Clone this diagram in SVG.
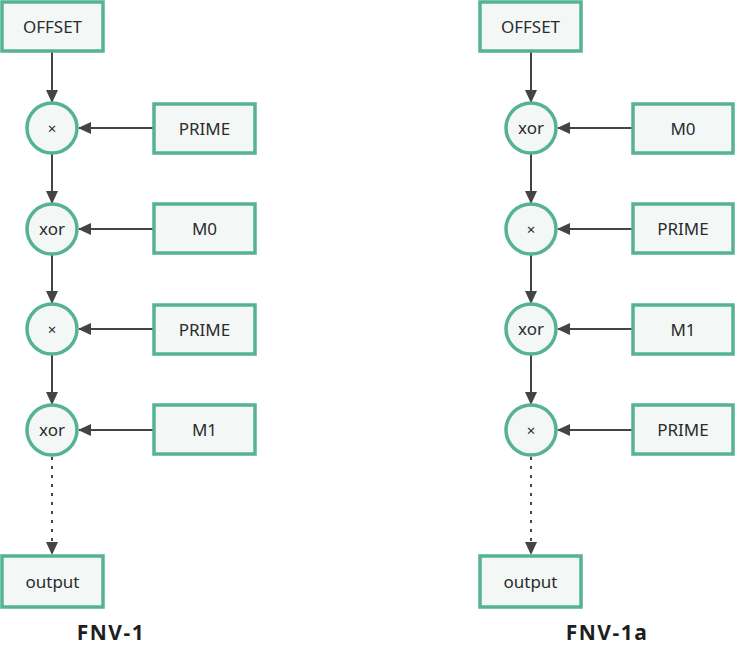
<svg xmlns="http://www.w3.org/2000/svg" width="736" height="660" viewBox="0 0 736 660">
<style>
.box{fill:#f3f8f7;stroke:#55b394;stroke-width:3.5}
.op{fill:#f3f8f7;stroke:#55b394;stroke-width:3.5}
.t{font-family:"Noto Sans","Open Sans",sans-serif;font-size:17px;fill:#2b2b2b;text-anchor:middle;dominant-baseline:central}
.ts{font-family:"Noto Sans","Open Sans",sans-serif;font-size:15px;fill:#2b2b2b;text-anchor:middle;dominant-baseline:central}
.c{stroke:#444;stroke-width:2;fill:none;marker-end:url(#ah)}
.d{stroke:#444;stroke-width:2;fill:none;stroke-dasharray:3 6;marker-end:url(#ah)}
.title{font-family:"Noto Sans","Open Sans",sans-serif;font-size:21px;font-weight:bold;fill:#1e1e1e;text-anchor:middle;letter-spacing:1.5px}
</style>
<defs>
<marker id="ah" markerWidth="13" markerHeight="12" refX="12" refY="6" orient="auto" markerUnits="userSpaceOnUse">
<path d="M0,0 L13,6 L0,12 Z" fill="#444"/>
</marker>
</defs>
<rect width="736" height="660" fill="#fff"/>
<g id="connectors">
<line class="c" x1="52" y1="52" x2="52" y2="102"/>
<line class="c" x1="52" y1="154" x2="52" y2="203"/>
<line class="c" x1="52" y1="255" x2="52" y2="303"/>
<line class="c" x1="52" y1="355" x2="52" y2="404"/>
<line class="d" x1="52" y1="457" x2="52" y2="554"/>
<line class="c" x1="153" y1="128" x2="79" y2="128"/>
<line class="c" x1="153" y1="229" x2="79" y2="229"/>
<line class="c" x1="153" y1="329" x2="79" y2="329"/>
<line class="c" x1="153" y1="430" x2="79" y2="430"/>
<line class="c" x1="531" y1="52" x2="531" y2="102"/>
<line class="c" x1="531" y1="154" x2="531" y2="203"/>
<line class="c" x1="531" y1="255" x2="531" y2="303"/>
<line class="c" x1="531" y1="355" x2="531" y2="404"/>
<line class="d" x1="531" y1="457" x2="531" y2="554"/>
<line class="c" x1="632" y1="128" x2="558" y2="128"/>
<line class="c" x1="632" y1="229" x2="558" y2="229"/>
<line class="c" x1="632" y1="329" x2="558" y2="329"/>
<line class="c" x1="632" y1="430" x2="558" y2="430"/>
</g>
<g id="l-offset"><rect class="box" x="2" y="2" width="101" height="49"/><text class="t" x="52.5" y="26.5">OFFSET</text></g>
<g id="l-op1"><circle class="op" cx="52" cy="128" r="25"/><text class="ts" x="52" y="128">×</text></g>
<g id="l-op2"><circle class="op" cx="52" cy="229" r="25"/><text class="t" x="52" y="228">xor</text></g>
<g id="l-op3"><circle class="op" cx="52" cy="329" r="25"/><text class="ts" x="52" y="329">×</text></g>
<g id="l-op4"><circle class="op" cx="52" cy="430" r="25"/><text class="t" x="52" y="429">xor</text></g>
<g id="l-prime1"><rect class="box" x="154" y="104" width="101" height="49"/><text class="t" x="204.5" y="128.5">PRIME</text></g>
<g id="l-m0"><rect class="box" x="154" y="204" width="101" height="49"/><text class="t" x="204.5" y="228.5">M0</text></g>
<g id="l-prime2"><rect class="box" x="154" y="305" width="101" height="49"/><text class="t" x="204.5" y="329.5">PRIME</text></g>
<g id="l-m1"><rect class="box" x="154" y="405" width="101" height="49"/><text class="t" x="204.5" y="429.5">M1</text></g>
<g id="l-output"><rect class="box" x="2" y="556" width="101" height="51"/><text class="t" x="52.5" y="581">output</text></g>
<g id="l-title"><text class="title" x="111" y="640">FNV-1</text></g>
<g id="r-offset"><rect class="box" x="480" y="2" width="101" height="49"/><text class="t" x="530.5" y="26.5">OFFSET</text></g>
<g id="r-op1"><circle class="op" cx="531" cy="128" r="25"/><text class="t" x="531" y="127">xor</text></g>
<g id="r-op2"><circle class="op" cx="531" cy="229" r="25"/><text class="ts" x="531" y="229">×</text></g>
<g id="r-op3"><circle class="op" cx="531" cy="329" r="25"/><text class="t" x="531" y="328">xor</text></g>
<g id="r-op4"><circle class="op" cx="531" cy="430" r="25"/><text class="ts" x="531" y="430">×</text></g>
<g id="r-m0"><rect class="box" x="633" y="104" width="100" height="49"/><text class="t" x="683" y="128.5">M0</text></g>
<g id="r-prime1"><rect class="box" x="633" y="204" width="100" height="49"/><text class="t" x="683" y="228.5">PRIME</text></g>
<g id="r-m1"><rect class="box" x="633" y="305" width="100" height="49"/><text class="t" x="683" y="329.5">M1</text></g>
<g id="r-prime2"><rect class="box" x="633" y="405" width="100" height="49"/><text class="t" x="683" y="429.5">PRIME</text></g>
<g id="r-output"><rect class="box" x="480" y="556" width="101" height="51"/><text class="t" x="530.5" y="581">output</text></g>
<g id="r-title"><text class="title" x="607" y="640">FNV-1a</text></g>
</svg>
